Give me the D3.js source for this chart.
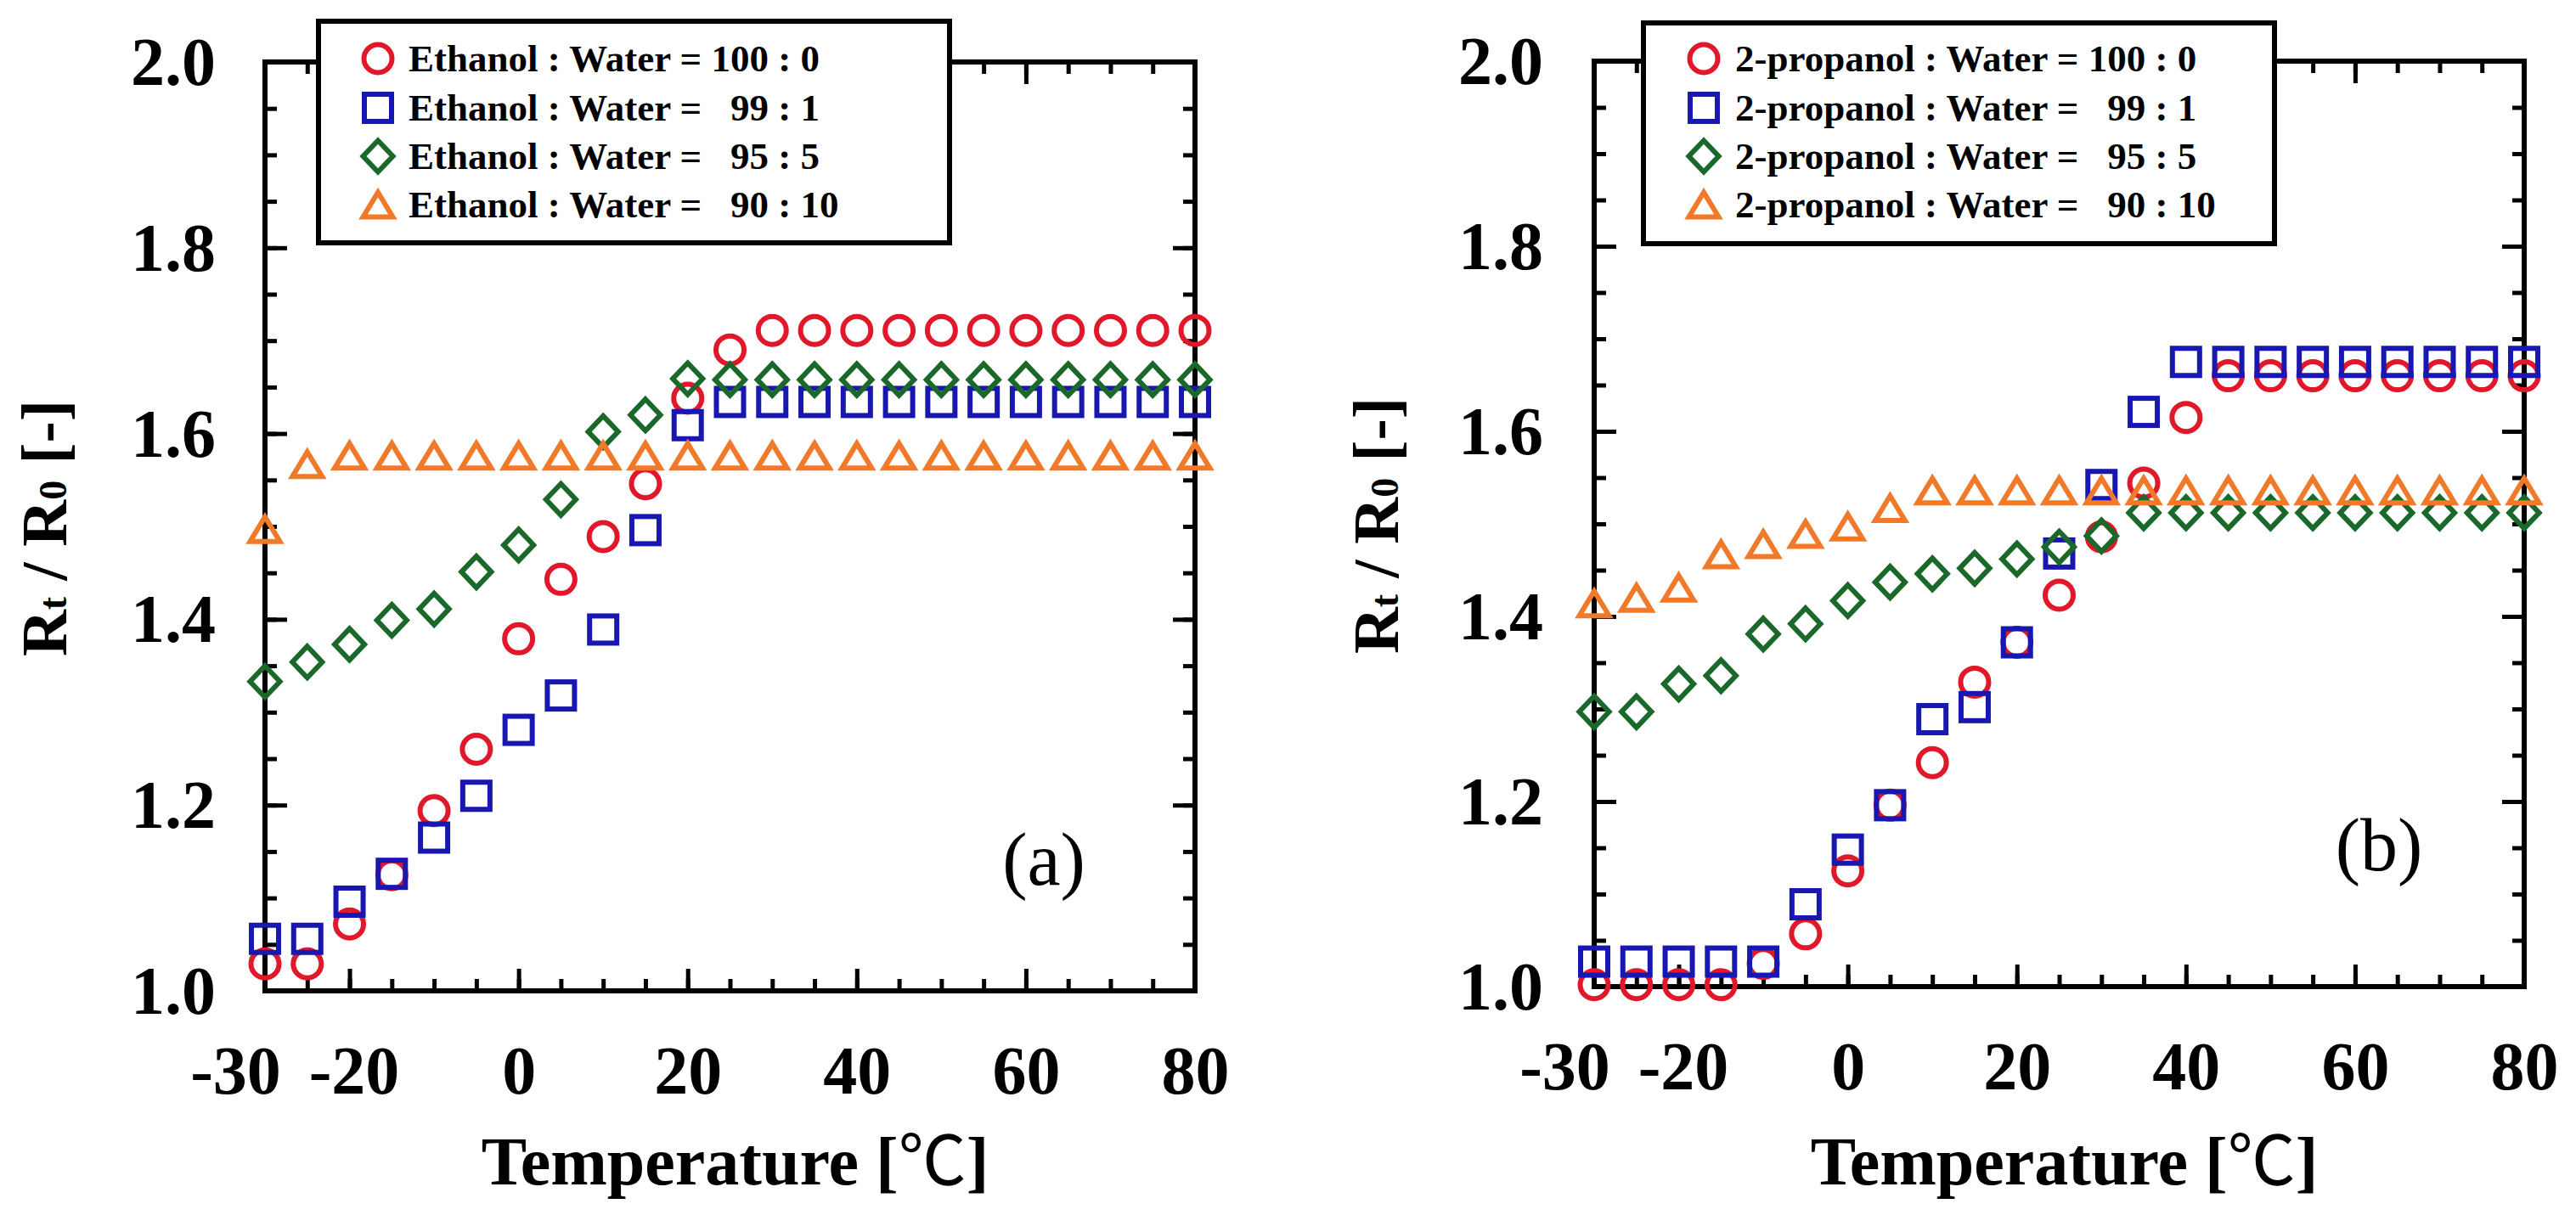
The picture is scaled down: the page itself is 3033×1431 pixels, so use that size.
<!DOCTYPE html>
<html><head><meta charset="utf-8">
<script src="https://cdn.jsdelivr.net/npm/d3@7"></script>
<style>body{margin:0;background:#fff}svg{display:block}</style>
</head><body>
<script>
// ---- data ----
const temps = [-30,-25,-20,-15,-10,-5,0,5,10,15,20,25,30,35,40,45,50,55,60,65,70,75,80];

const ethanolLabels = ["Ethanol : Water = 100 : 0","Ethanol : Water =   99 : 1","Ethanol : Water =   95 : 5","Ethanol : Water =   90 : 10"];
const eth100 = [1.029,1.029,1.072,1.125,1.194,1.260,1.379,1.443,1.489,1.546,1.638,1.690,1.711,1.711,1.711,1.711,1.711,1.711,1.711,1.711,1.711,1.711,1.711];
const eth99  = [1.056,1.056,1.096,1.126,1.165,1.210,1.281,1.318,1.389,1.496,1.609,1.634,1.634,1.634,1.634,1.634,1.634,1.634,1.634,1.634,1.634,1.634,1.634];
const eth95  = [1.333,1.354,1.373,1.399,1.411,1.451,1.480,1.529,1.602,1.620,1.659,1.658,1.658,1.658,1.658,1.658,1.658,1.658,1.658,1.658,1.658,1.658,1.658];
const eth90  = [1.497,1.567,1.576,1.576,1.576,1.576,1.576,1.576,1.576,1.576,1.576,1.576,1.576,1.576,1.576,1.576,1.576,1.576,1.576,1.576,1.576,1.576,1.576];

const propLabels = ["2-propanol : Water = 100 : 0","2-propanol : Water =   99 : 1","2-propanol : Water =   95 : 5","2-propanol : Water =   90 : 10"];
const prop100 = [1.002,1.002,1.002,1.002,1.025,1.057,1.125,1.196,1.242,1.329,1.372,1.423,1.486,1.544,1.615,1.660,1.660,1.660,1.660,1.660,1.660,1.660,1.660];
const prop99  = [1.027,1.027,1.027,1.027,1.027,1.089,1.148,1.196,1.289,1.302,1.372,1.468,1.542,1.621,1.675,1.675,1.675,1.675,1.675,1.675,1.675,1.675,1.675];
const prop95  = [1.297,1.297,1.327,1.336,1.381,1.392,1.417,1.437,1.446,1.452,1.462,1.475,1.487,1.512,1.512,1.512,1.512,1.512,1.512,1.512,1.512,1.512,1.512];
const prop90  = [1.414,1.420,1.431,1.467,1.478,1.489,1.497,1.517,1.536,1.536,1.536,1.536,1.536,1.536,1.536,1.536,1.536,1.536,1.536,1.536,1.536,1.536,1.536];

const xTickLabels = [-30,-20,0,20,40,60,80];
const xMajor = [-20,0,20,40,60,80];
const xMinor = d3.range(-30,81,5);
const yTickLabels = [1.0,1.2,1.4,1.6,1.8,2.0];
const yMinor = d3.range(0,21).map(i=>1+i*0.05);

const colors = ["#e0182a","#1818b0","#1b682b","#f07a2a"];
const shapes = ["circle","square","diamond","triangle"];

// ---- drawing ----
const W = 3033, H = 1431;
const svg = d3.select("body").append("svg").attr("width",W).attr("height",H)
  .style("font-family","'Liberation Serif','Times New Roman',serif");

function marker(g, shape, color, cx, cy, sc=1){
  const sw = 6;
  if(shape==="circle"){
    g.append("circle").attr("cx",cx).attr("cy",cy).attr("r",16.5*sc)
      .attr("fill","none").attr("stroke",color).attr("stroke-width",sw);
  } else if(shape==="square"){
    const s=32*sc;
    g.append("rect").attr("x",cx-s/2).attr("y",cy-s/2).attr("width",s).attr("height",s)
      .attr("fill","none").attr("stroke",color).attr("stroke-width",sw);
  } else if(shape==="diamond"){
    const r=18.5*sc;
    g.append("path").attr("d",`M${cx},${cy-r}L${cx+r*0.95},${cy}L${cx},${cy+r}L${cx-r*0.95},${cy}Z`)
      .attr("fill","none").attr("stroke",color).attr("stroke-width",sw);
  } else {
    const hw=17.5*sc, hh=14.5*sc;
    g.append("path").attr("d",`M${cx},${cy-hh}L${cx+hw},${cy+hh}L${cx-hw},${cy+hh}Z`)
      .attr("fill","none").attr("stroke",color).attr("stroke-width",sw).attr("stroke-linejoin","miter");
  }
}

function panel(cfg){
  const x = d3.scaleLinear().domain([-30,80]).range([cfg.x0,cfg.x1]);
  const y = d3.scaleLinear().domain([1.0,2.0]).range([cfg.y0,cfg.y1]);
  const g = svg.append("g");

  // ticks (inward) on all four sides
  const tickStyle = sel => { sel.select(".domain").remove(); sel.selectAll("line").attr("stroke","#000").attr("stroke-width",5); sel.selectAll("text").remove(); };
  g.append("g").attr("transform",`translate(0,${cfg.y0})`).call(d3.axisBottom(x).tickValues(xMinor).tickSize(-14)).call(tickStyle);
  g.append("g").attr("transform",`translate(0,${cfg.y0})`).call(d3.axisBottom(x).tickValues(xMajor).tickSize(-26)).call(tickStyle);
  g.append("g").attr("transform",`translate(0,${cfg.y1})`).call(d3.axisTop(x).tickValues(xMinor).tickSize(-14)).call(tickStyle);
  g.append("g").attr("transform",`translate(0,${cfg.y1})`).call(d3.axisTop(x).tickValues(xMajor).tickSize(-26)).call(tickStyle);
  g.append("g").attr("transform",`translate(${cfg.x0},0)`).call(d3.axisLeft(y).tickValues(yMinor).tickSize(-14)).call(tickStyle);
  g.append("g").attr("transform",`translate(${cfg.x0},0)`).call(d3.axisLeft(y).tickValues(yTickLabels).tickSize(-26)).call(tickStyle);
  g.append("g").attr("transform",`translate(${cfg.x1},0)`).call(d3.axisRight(y).tickValues(yMinor).tickSize(-14)).call(tickStyle);
  g.append("g").attr("transform",`translate(${cfg.x1},0)`).call(d3.axisRight(y).tickValues(yTickLabels).tickSize(-26)).call(tickStyle);

  // frame
  g.append("rect").attr("x",cfg.x0).attr("y",cfg.y1).attr("width",cfg.x1-cfg.x0).attr("height",cfg.y0-cfg.y1)
    .attr("fill","none").attr("stroke","#000").attr("stroke-width",6);

  // tick labels
  const xl = g.append("g").attr("transform",`translate(0,${cfg.y0})`)
    .call(d3.axisBottom(x).tickValues(xTickLabels).tickSize(0).tickPadding(0).tickFormat(d=>d<0?"-"+Math.abs(d):d));
  xl.select(".domain").remove();
  xl.selectAll("text").attr("font-family","'Liberation Serif',serif").attr("font-weight","bold")
    .attr("font-size",80).attr("fill","#000").attr("dy",null).attr("y",121)
    .attr("dx",d=>d===-30?-35:(d===-20?5:0));
  const yl = g.append("g").attr("transform",`translate(${cfg.x0},0)`)
    .call(d3.axisLeft(y).tickValues(yTickLabels).tickSize(0).tickPadding(cfg.ypad).tickFormat(d3.format(".1f")));
  yl.select(".domain").remove();
  yl.selectAll("text").attr("font-family","'Liberation Serif',serif").attr("font-weight","bold")
    .attr("font-size",80).attr("fill","#000").attr("dy","0.33em");

  // series
  cfg.series.forEach((s,si)=>{
    const sg = g.append("g");
    temps.forEach((t,i)=>marker(sg, shapes[si], colors[si], x(t), y(s[i])));
  });

  // axis titles
  const xt = g.append("text").attr("x",(cfg.x0+cfg.x1)/2+6).attr("y",1395).attr("text-anchor","middle")
    .attr("font-weight","bold").attr("font-size",80);
  xt.append("tspan").text("Temperature [");
  xt.append("tspan").attr("font-family","'Noto Sans CJK JP','Noto Sans',sans-serif").attr("font-weight","normal").text("℃");
  xt.append("tspan").text("]");

  const yt = g.append("text").attr("transform",`translate(${cfg.ytx},${(cfg.y0+cfg.y1)/2+2}) rotate(-90)`)
    .attr("text-anchor","middle").attr("font-weight","bold").attr("font-size",76);
  yt.append("tspan").text("R");
  yt.append("tspan").attr("font-size",46).text("t");
  yt.append("tspan").text(" / R");
  yt.append("tspan").attr("font-size",46).text("0");
  yt.append("tspan").text(" [-]");

  // panel label
  g.append("text").attr("x",cfg.lblx).attr("y",cfg.lbly).attr("text-anchor","middle")
    .attr("font-size",88).attr("font-weight","normal").text(cfg.label);

  // legend
  const lg = g.append("g");
  lg.append("rect").attr("x",cfg.lg[0]).attr("y",cfg.lg[1]).attr("width",cfg.lg[2]).attr("height",cfg.lg[3])
    .attr("fill","#fff").attr("stroke","#000").attr("stroke-width",6);
  const rows = [69,127,184,241];
  cfg.labels.forEach((lab,i)=>{
    marker(lg, shapes[i], colors[i], cfg.lgSym, rows[i], 1.0);
    lg.append("text").attr("x",cfg.lgText).attr("y",rows[i]+15).attr("font-weight","bold")
      .attr("font-size",45).style("white-space","pre").attr("xml:space","preserve").text(lab);
  });
}

panel({x0:312,x1:1407,y0:1167,y1:73,ypad:58,ytx:78,label:"(a)",lblx:1229,lbly:1042,
  series:[eth100,eth99,eth95,eth90],labels:ethanolLabels,
  lg:[375,25,743,261],lgSym:445,lgText:481});
panel({x0:1877,x1:2972,y0:1162,y1:72,ypad:60,ytx:1646,label:"(b)",lblx:2801,lbly:1025,
  series:[prop100,prop99,prop95,prop90],labels:propLabels,
  lg:[1935,27,743,260],lgSym:2006,lgText:2043});
</script>
</body></html>
